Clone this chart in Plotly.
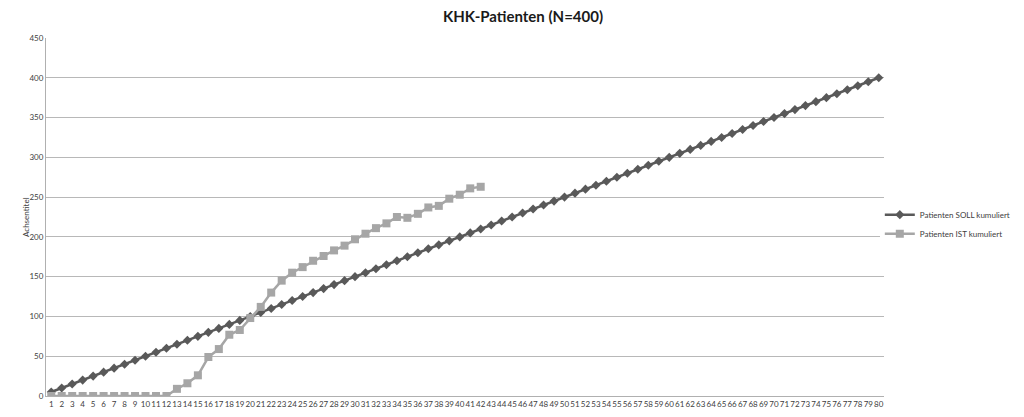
import plotly.graph_objects as go

categories = list(range(1, 81))
soll = [5, 10, 15, 20, 25, 30, 35, 40, 45, 50, 55, 60, 65, 70, 75, 80, 85, 90, 95, 100,
        105, 110, 115, 120, 125, 130, 135, 140, 145, 150, 155, 160, 165, 170, 175, 180, 185, 190, 195, 200,
        205, 210, 215, 220, 225, 230, 235, 240, 245, 250, 255, 260, 265, 270, 275, 280, 285, 290, 295, 300,
        305, 310, 315, 320, 325, 330, 335, 340, 345, 350, 355, 360, 365, 370, 375, 380, 385, 390, 395, 400]
ist_categories = list(range(1, 43))
ist = [0, 0, 0, 0, 0, 0, 0, 0, 0, 0, 0, 0, 9, 16, 26, 49, 59, 77, 83, 98,
       112, 130, 145, 155, 162, 170, 176, 183, 189, 197, 204, 211, 217, 225, 224, 229, 237, 239, 248, 253,
       261, 263]
y_ticks = [0, 50, 100, 150, 200, 250, 300, 350, 400, 450]

font_family = "Lato"
W, H = 1008, 401  # page body has an 8px margin
PL, PR, PT, PB = 38, 132, 30, 13
plot_w = W - PL - PR

fig = go.Figure()
fig.add_trace(go.Scatter(
    x=categories, y=soll, mode="lines+markers", name="Patienten SOLL kumuliert",
    line=dict(color="#595959", width=2.5),
    marker=dict(symbol="diamond", size=7, color="#595959"),
))
fig.add_trace(go.Scatter(
    x=ist_categories, y=ist, mode="lines+markers", name="Patienten IST kumuliert",
    line=dict(color="#a6a6a6", width=2.5),
    marker=dict(symbol="square", size=8, color="#a6a6a6"),
))

fig.update_layout(
    width=W, height=H,
    margin=dict(l=PL, r=PR, t=PT, b=PB, autoexpand=False),
    paper_bgcolor="white", plot_bgcolor="white",
    font=dict(family=font_family, size=8, color="#404040"),
    title=dict(text="<b>KHK-Patienten (N=400)</b>", x=(523 - 8) / W, xanchor="center",
               y=1 - 9 / H, yanchor="middle", automargin=False,
               font=dict(size=15, color="#1a1a1a", family=font_family)),
    legend=dict(x=0.995, y=0.48, xanchor="left", yanchor="middle",
                font=dict(size=8, color="#404040"), tracegroupgap=0, itemwidth=30),
    showlegend=True,
    annotations=[dict(text="Achsentitel", textangle=-90, xref="paper", yref="paper",
                      x=(26 - 8 - PL) / plot_w, y=0.5, xanchor="center", yanchor="middle",
                      showarrow=False, font=dict(size=8, color="#404040"))],
)
fig.update_xaxes(
    range=[0.5, 80.5], tickmode="array", tickvals=categories, ticktext=[str(c) for c in categories],
    tickangle=0, showgrid=False, showline=True, linecolor="#b0b0b0", linewidth=1,
    ticks="", tickfont=dict(size=8), zeroline=False, automargin=False,
)
fig.update_yaxes(
    range=[0, 450], tickmode="array", tickvals=y_ticks, showgrid=True, gridcolor="#b8b8b8", gridwidth=1,
    showline=True, linecolor="#b0b0b0", linewidth=1, ticks="", zeroline=False, automargin=False,
    tickfont=dict(size=8),
)

fig.write_html("out.html")
